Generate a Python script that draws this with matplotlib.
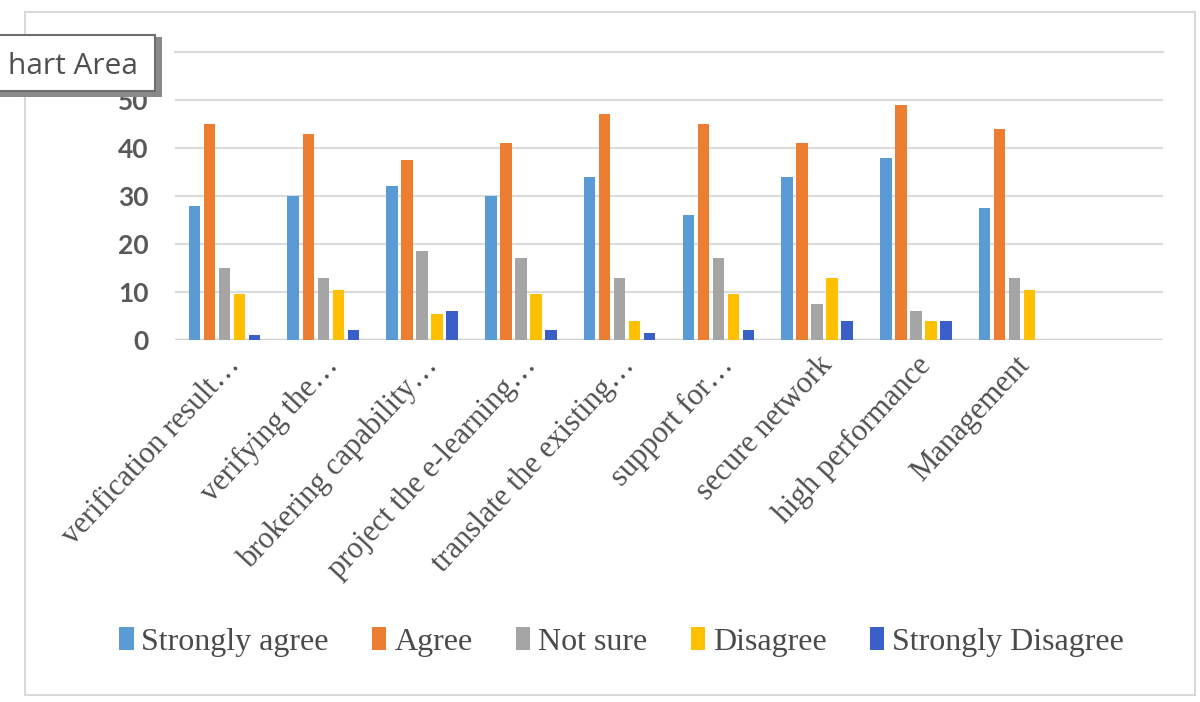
import matplotlib.pyplot as plt
import numpy as np
from matplotlib.patches import Rectangle

categories = [
    "verification result…",
    "verifying the…",
    "brokering capability…",
    "project the e-learning…",
    "translate the existing…",
    "support for…",
    "secure network",
    "high performance",
    "Management",
    "",
]
strongly_agree = [28, 30, 32, 30, 34, 26, 34, 38, 27.5, 0]
agree = [45, 43, 37.5, 41, 47, 45, 41, 49, 44, 0]
not_sure = [15, 13, 18.5, 17, 13, 17, 7.5, 6, 13, 0]
disagree = [9.5, 10.5, 5.5, 9.5, 4, 9.5, 13, 4, 10.5, 0]
strongly_disagree = [1, 2, 6, 2, 1.5, 2, 4, 4, 0, 0]

series = [
    ("Strongly agree", strongly_agree, "#5B9BD5"),
    ("Agree", agree, "#ED7D31"),
    ("Not sure", not_sure, "#A5A5A5"),
    ("Disagree", disagree, "#FFC000"),
    ("Strongly Disagree", strongly_disagree, "#3A5FC8"),
]

fig = plt.figure(figsize=(12, 7.02), dpi=100)
ax = fig.add_axes([0.146, 0.5157, 0.823, 0.4103])

x = np.arange(len(categories))
step = 0.152
width = 0.118
for i, (name, vals, color) in enumerate(series):
    ax.bar(x + (i - 2) * step, vals, width, color=color, label=name, zorder=3)

ax.set_xlim(-0.5, len(categories) - 0.5)
ax.set_ylim(0, 60)
# the 60 label sits under the tooltip, so only its gridline is drawn
ax.set_yticks(range(0, 60, 10))
ax.yaxis.grid(True, color="#DCDCDC", linewidth=1.6, zorder=0)
ax.axhline(60, color="#DCDCDC", linewidth=1.6, zorder=0, clip_on=False)
ax.axhline(0, color="#D0D0D0", linewidth=1.6, zorder=2)
for s in ax.spines.values():
    s.set_visible(False)
ax.tick_params(axis="both", length=0)
ax.tick_params(axis="y", pad=19, labelsize=19, labelcolor="#595959")
for lab in ax.get_yticklabels():
    lab.set_fontfamily("Lato")
    lab.set_fontweight("bold")

ax.set_xticks(x)
ax.set_xticklabels(categories, rotation=47, ha="right", rotation_mode="anchor",
                   family="Liberation Serif", fontsize=22, color="#505050")
ax.tick_params(axis="x", pad=8)

leg = fig.legend(loc="center", bbox_to_anchor=(0.518, 0.0855), ncol=5,
                 frameon=False, handlelength=0.45, handleheight=0.75,
                 handletextpad=0.25, columnspacing=1.35,
                 prop={"family": "Liberation Serif", "size": 23})
for t in leg.get_texts():
    t.set_color("#4A4A4A")

# outer chart border
fig.patches.append(Rectangle((25 / 1200, 1 - 695 / 702), 1170 / 1200, 683 / 702,
                             transform=fig.transFigure, fill=False,
                             edgecolor="#D9D9D9", linewidth=1.5, zorder=0))

# hover tooltip with drop shadow
fig.patches.append(Rectangle((0, 1 - 97 / 702), 162 / 1200, 60 / 702,
                             transform=fig.transFigure, facecolor="#8A8A8A",
                             edgecolor="none", zorder=10))
fig.patches.append(Rectangle((-5 / 1200, 1 - 91 / 702), 160 / 1200, 56 / 702,
                             transform=fig.transFigure, facecolor="white",
                             edgecolor="#6E6E6E", linewidth=1.5, zorder=11))
fig.text(8 / 1200, 1 - 66 / 702, "hart Area", family="Open Sans", fontsize=21.5,
         color="#505050", va="center", ha="left", zorder=12)

fig.savefig("out.png", dpi=100)
